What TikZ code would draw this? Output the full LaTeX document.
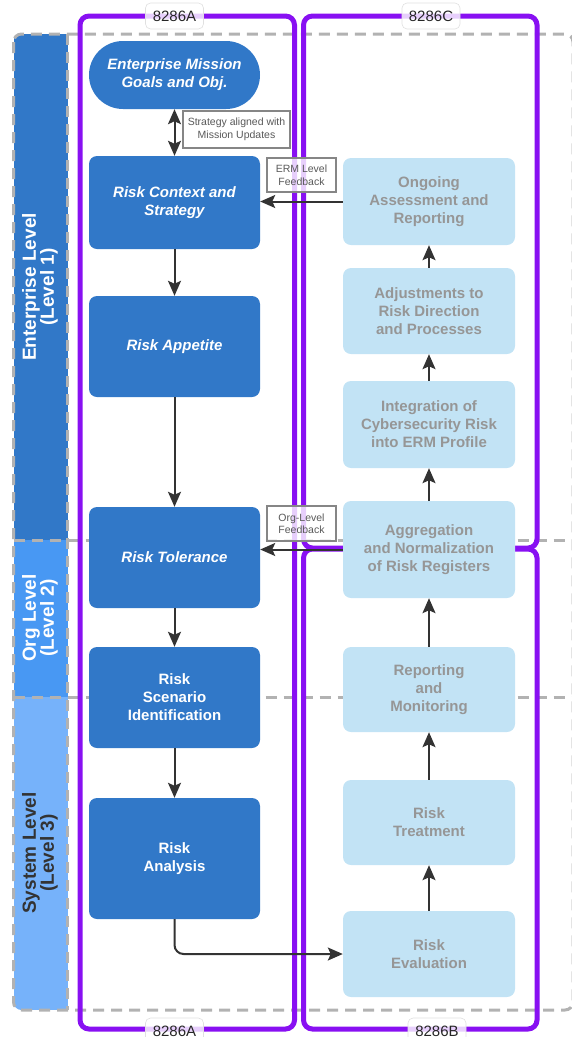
\documentclass[tikz,border=0pt]{standalone}
\usepackage{fontspec}
\setmainfont{Liberation Sans}
\usetikzlibrary{arrows.meta,positioning}
\definecolor{darkblue}{RGB}{49,120,200}
\definecolor{orgblue}{RGB}{72,152,243}
\definecolor{sysblue}{RGB}{118,178,250}
\definecolor{paleblue}{RGB}{194,227,245}
\definecolor{greytext}{RGB}{150,150,150}
\definecolor{violet8286}{RGB}{136,16,242}
\definecolor{dashgrey}{RGB}{178,178,178}
\definecolor{inkgrey}{RGB}{51,51,51}

\begin{document}
\begin{tikzpicture}[x=1pt,y=-1pt,
    stage/.style={fill=darkblue,rounded corners=8pt,minimum width=171pt,inner sep=0pt,
        text=white,align=center,font=\bfseries\fontsize{15}{18}\selectfont},
    stageit/.style={stage,font=\bfseries\itshape\fontsize{15}{18}\selectfont},
    review/.style={fill=paleblue,rounded corners=8pt,minimum width=172pt,minimum height=86pt,
        inner sep=0pt,text=greytext,align=center,font=\bfseries\fontsize{15}{18}\selectfont},
    note/.style={draw=gray!95,line width=1.5pt,fill=white,fill opacity=0.8,text opacity=1,
        text=black!65,align=center,inner sep=0pt,font=\fontsize{10.5}{12.5}\selectfont},
    frametag/.style={draw=black!12,line width=0.6pt,fill=white,fill opacity=0.8,text opacity=1,
        rounded corners=5pt,minimum width=58pt,minimum height=26pt,inner sep=0pt,
        text=black!85,font=\fontsize{15}{18}\selectfont},
    leveltext/.style={rotate=90,align=center,font=\bfseries\fontsize{19}{18}\selectfont},
    flow/.style={draw=inkgrey,line width=2pt,-{Stealth[length=15pt,width=13pt,inset=3pt]}},
    frame/.style={draw=violet8286,line width=5pt,rounded corners=9pt},
    levelline/.style={draw=dashgrey,line width=3pt,dash pattern=on 11pt off 7pt}]
    \clip (0,0) rectangle (572,1037);

    % level bands
    \begin{scope}
        \clip[rounded corners=8pt] (13.5,34) rectangle (573,1010);
        \fill[darkblue] (13.5,34) rectangle (67.5,540);
        \fill[orgblue] (13.5,540) rectangle (67.5,697);
        \fill[sysblue] (13.5,697) rectangle (67.5,1010);
    \end{scope}
    \draw[levelline,rounded corners=8pt] (13.5,34) rectangle (573,1010);
    \draw[levelline] (13.5,540) -- (573,540);
    \draw[levelline] (13.5,697) -- (573,697);
    \draw[levelline] (67.5,34) -- (67.5,1010);

    \node[leveltext,text=white] (lvlone) at (40,287) {Enterprise Level\\(Level 1)};
    \node[leveltext,text=white] (lvltwo) at (40,618) {Org Level\\(Level 2)};
    \node[leveltext,text=inkgrey] (lvlthree) at (40,853) {System Level\\(Level 3)};

    % 8286 frames
    \draw[frame] (80,16) rectangle (294.5,1029);
    \draw[frame] (303.5,16) rectangle (537,548);
    \draw[frame] (303.5,549) rectangle (537,1029);

    % left column
    \node[stageit,rounded corners=34pt,minimum height=68pt] (goals) at (174.5,75) {Enterprise Mission\\Goals and Obj.};
    \node[stageit,minimum height=93pt] (context) at (174.5,202.5) {Risk Context and\\Strategy};
    \node[stageit,minimum height=101pt] (appetite) at (174.5,346.5) {Risk Appetite};
    \node[stageit,minimum height=101pt] (tolerance) at (174.5,557.5) {Risk Tolerance};
    \node[stage,minimum height=101pt] (scenario) at (174.5,697.5) {Risk\\Scenario\\Identification};
    \node[stage,minimum height=121pt] (analysis) at (174.5,858.5) {Risk\\Analysis};

    % right column
    \node[review,minimum height=87pt] (ongoing) at (429,201.5) {Ongoing\\Assessment and\\Reporting};
    \node[review] (adjust) at (429,311) {Adjustments to\\Risk Direction\\and Processes};
    \node[review,minimum height=87pt] (integrate) at (429,424.5) {Integration of\\Cybersecurity Risk\\into ERM Profile};
    \node[review,minimum height=97pt] (aggregate) at (429,549.5) {Aggregation\\and Normalization\\of Risk Registers};
    \node[review,minimum height=85pt] (reporting) at (429,689.5) {Reporting\\and\\Monitoring};
    \node[review,minimum height=85pt] (treatment) at (429,822.5) {Risk\\Treatment};
    \node[review] (evaluation) at (429,954) {Risk\\Evaluation};

    % connectors
    \draw[flow,{Stealth[length=15pt,width=13pt,inset=3pt]}-{Stealth[length=15pt,width=13pt,inset=3pt]}] (goals) -- (context);
    \draw[flow] (context) -- (appetite);
    \draw[flow] (appetite) -- (tolerance);
    \draw[flow] (tolerance) -- (scenario);
    \draw[flow] (scenario) -- (analysis);
    \draw[flow,rounded corners=9pt] (analysis) |- (evaluation);
    \draw[flow] (evaluation) -- (treatment);
    \draw[flow] (treatment) -- (reporting);
    \draw[flow] (reporting) -- (aggregate);
    \draw[flow] (aggregate) -- (integrate);
    \draw[flow] (integrate) -- (adjust);
    \draw[flow] (adjust) -- (ongoing);
    \draw[flow] (ongoing.west) -- (ongoing.west -| context.east);
    \draw[flow] (aggregate.west) -- (aggregate.west -| tolerance.east);

    % notes
    \node[note,minimum width=107pt,minimum height=37pt] (strategynote) at (236.5,129.5) {Strategy aligned with\\Mission Updates};
    \node[note,minimum width=69pt,minimum height=34pt] (ermnote) at (301.5,175) {ERM Level\\Feedback};
    \node[note,minimum width=69pt,minimum height=35pt] (orgnote) at (301.5,523.5) {Org-Level\\Feedback};

    % frame tags
    \node[frametag] (tagAtop) at (174.5,16) {8286A};
    \node[frametag] (tagC) at (431,16) {8286C};
    \node[frametag] (tagAbot) at (174.5,1031) {8286A};
    \node[frametag] (tagB) at (437,1031) {8286B};
\end{tikzpicture}
\end{document}
